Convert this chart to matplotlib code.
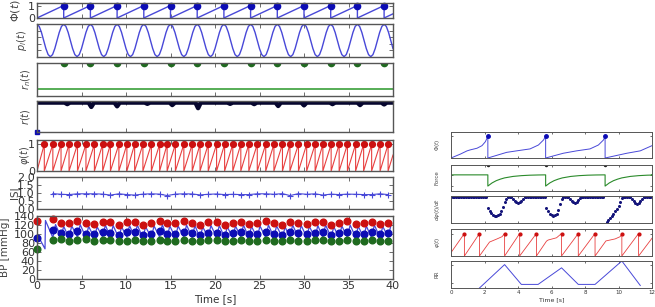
import numpy as np
import matplotlib
matplotlib.use("Agg")
import matplotlib.pyplot as plt

# ---- left column data (40 s simulation) ----
phi_beats = [3.0, 6.0, 9.0, 12.0, 15.0, 18.0, 21.0, 24.0, 27.0, 30.0, 33.0, 36.0, 39.0]
pl_cycle = [1.0, 0.87, 0.5, 0.0, -0.5, -0.87, -1.0, -0.87, -0.5, 0.0, 0.5, 0.87]
pl_step = 0.25
rn_level = 0.2
r_dip_t = [3.4, 6.1, 9.0, 12.4, 15.2, 18.1, 21.7, 24.4, 27.1, 30.0, 33.2, 36.3, 39.0]
r_dip_d = [0.05, 0.14, 0.12, 0.04, 0.08, 0.18, 0.04, 0.05, 0.11, 0.09, 0.05, 0.08, 0.06]
beats = [0.82, 1.78, 2.7, 3.6, 4.55, 5.5, 6.45, 7.38, 8.25, 9.2, 10.1, 10.97, 11.9,
         12.85, 13.78, 14.62, 15.55, 16.5, 17.44, 18.32, 19.24, 20.18, 21.08, 22.0,
         22.9, 23.8, 24.75, 25.7, 26.62, 27.58, 28.42, 29.38, 30.3, 31.25, 32.12,
         33.05, 33.95, 34.88, 35.8, 36.7, 37.6, 38.55, 39.45]
bp_sys = [129, 133, 125, 125, 129, 124, 122, 127, 126, 121, 126, 127, 121, 124, 128,
          124, 124, 128, 125, 121, 126, 126, 121, 125, 127, 122, 124, 128, 124, 121,
          127, 125, 122, 126, 127, 121, 125, 128, 123, 124, 127, 122, 125]
bp_mean = [92, 110, 102, 101, 106, 100, 99, 105, 103, 98, 104, 104, 98, 101, 106,
           101, 101, 105, 102, 98, 103, 103, 98, 102, 105, 99, 101, 105, 101, 98,
           104, 102, 99, 103, 104, 98, 102, 105, 100, 101, 104, 99, 102]
bp_dia = [66, 87, 89, 85, 86, 88, 84, 86, 87, 84, 85, 86, 84, 85, 87, 85, 85, 86, 85,
          84, 86, 86, 84, 85, 87, 84, 85, 86, 85, 84, 86, 85, 84, 86, 86, 84, 85, 87,
          84, 85, 86, 84, 85]
bp_line_lo = [92, 93, 91, 93, 92, 91, 93, 92, 91, 93, 92, 91, 92, 93, 91, 92, 93, 92,
              91, 92, 93, 92, 91, 93, 92, 91, 92, 93, 92, 91, 92, 93, 91, 92, 93, 91,
              92, 93, 92, 91, 92, 93]
bp_line_hi = [121, 117, 118, 121, 117, 116, 120, 119, 116, 119, 120, 116, 118, 121,
              118, 118, 120, 119, 116, 119, 119, 116, 118, 120, 117, 118, 120, 118,
              116, 120, 119, 117, 119, 120, 116, 118, 120, 117, 118, 120, 117, 118]
bp_start_t = [0.0, 0.9, 0.95]
bp_start_v = [100, 67, 130]

# ---- right column data (12 s zoom) ----
R_beats = [2.2, 5.65, 9.2]
R_Phi_t = [0.0, 0.56, 0.96, 1.15, 1.55, 1.85, 2.05, 2.2, 2.2, 3.32, 3.92, 4.72, 5.22,
           5.52, 5.65, 5.65, 6.71, 7.5, 8.3, 8.8, 9.1, 9.2, 9.2, 10.5, 11.3, 12.0]
R_Phi_v = [0.0, 0.18, 0.33, 0.375, 0.45, 0.57, 0.75, 1.0, 0.0, 0.26, 0.33, 0.42, 0.6,
           0.83, 1.0, 0.0, 0.22, 0.33, 0.42, 0.6, 0.83, 1.0, 0.0, 0.22, 0.33, 0.57]
force_off = [0.0, 0.0, 0.25, 0.5, 0.75, 1.0, 1.5, 2.0, 2.5, 3.0]
force_val = [0.0, -1.0, -0.72, -0.52, -0.38, -0.27, -0.14, -0.07, -0.03, -0.01]
force_top = 0.88
dphi_step = 0.1
dphi_dips = {
    22: [0.57, 0.46, 0.37, 0.31, 0.28, 0.27, 0.29, 0.34, 0.45, 0.62, 0.80, 0.93],
    37: [0.92, 0.85, 0.80, 0.78, 0.80, 0.86, 0.93],
    57: [0.57, 0.45, 0.35, 0.29, 0.27, 0.29, 0.36, 0.50, 0.72, 0.92],
    71: [0.92, 0.85, 0.79, 0.78, 0.81, 0.88, 0.95],
    92: [-0.1, 0.02, 0.1, 0.18, 0.27, 0.36, 0.45, 0.55, 0.66, 0.8, 0.95],
    108: [0.92, 0.84, 0.76, 0.73, 0.76, 0.84, 0.93],
}
R_phi_t = [0.0, 0.8, 0.8, 1.7, 1.7, 2.3, 2.75, 3.05, 3.2, 3.2, 4.1, 4.1, 5.1, 5.1, 5.7,
           5.8, 6.3, 6.6, 6.6, 7.6, 7.6, 8.6, 8.6, 9.25, 9.8, 10.1, 10.2, 10.2, 11.2,
           11.2, 12.0]
R_phi_v = [0.15, 1.0, 0.0, 1.0, 0.0, 0.62, 0.76, 0.86, 1.0, 0.0, 1.0, 0.0, 1.0, 0.0,
           0.66, 0.71, 0.81, 1.0, 0.0, 1.0, 0.0, 1.0, 0.0, 0.67, 0.76, 0.86, 1.0, 0.0,
           1.0, 0.0, 0.79]
R_phi_peaks = [0.8, 1.7, 3.2, 4.1, 5.1, 6.6, 7.6, 8.6, 10.2, 11.2]
RR_t = [1.7, 3.2, 4.2, 5.2, 6.6, 7.6, 8.6, 10.2, 11.3]
RR_v = [0.85, 1.5, 0.95, 0.95, 1.41, 0.95, 0.95, 1.6, 0.92]

W, H = 655, 307
fig = plt.figure(figsize=(W / 100, H / 100), dpi=100)


def add_ax(x0, y0, x1, y1):
    return fig.add_axes([x0 / W, 1 - y1 / H, (x1 - x0) / W, (y1 - y0) / H])


def style(ax, fs, tl=3, lw=1.0):
    for s in ax.spines.values():
        s.set_color("#555555")
        s.set_linewidth(lw)
    ax.tick_params(direction="in", top=True, right=True, length=tl, width=0.6,
                   colors="#555555", labelcolor="#333333", labelsize=fs, pad=1.5)


BLUE_L, BLUE_D = "#4848d8", "#0c0cb4"
RED_L, RED_D = "#e84040", "#cc1010"
GREEN_L, GREEN_D = "#3aa03a", "#1f6a1f"

# ================= left column =================
L0, L1 = 37, 393
rows = [(3, 18), (24, 57), (63, 96), (101, 132), (140, 171), (177, 209), (216, 279)]
axL = [add_ax(L0, a, L1, b) for a, b in rows]
for ax in axL:
    style(ax, 8)
    ax.set_xlim(0, 40)
    ax.set_xticks(np.arange(0, 41, 5))
    ax.tick_params(labelbottom=False)

# Phi(t)
ax = axL[0]
st, sv = [0.0], [0.0]
for b in phi_beats:
    st += [b, b]
    sv += [1.0, 0.0]
st.append(40.0)
sv.append((40.0 - phi_beats[-1]) / 3.0)
ax.plot(st, sv, color=BLUE_L, lw=1.0)
ax.plot(phi_beats, [1.0] * len(phi_beats), "o", color=BLUE_D, ms=4.5, clip_on=False)
ax.set_ylim(0, 1.2)
ax.set_yticks([0, 1])

# p_l(t)
ax = axL[1]
n = int(40 / pl_step) + 1
pl_t = np.arange(n) * pl_step
pl_v = np.tile(pl_cycle, n // len(pl_cycle) + 1)[:n]
ax.plot(pl_t, pl_v, color=BLUE_L, lw=1.0)
ax.set_ylim(-1.02, 1.02)
ax.set_yticks(np.linspace(-1, 1, 6))
ax.tick_params(labelleft=False)

# r_n(t)
ax = axL[2]
ax.plot([0, 40], [rn_level, rn_level], color=GREEN_L, lw=1.2)
ax.plot(phi_beats, [1.0] * len(phi_beats), "o", color=GREEN_D, ms=4.5)
ax.set_ylim(0, 1)
ax.set_yticks([])

# r(t)
ax = axL[3]
rt, rv = [0.0], [0.95]
for t, d in zip(r_dip_t, r_dip_d):
    rt += [t - 0.3, t, t + 0.3]
    rv += [0.95, 0.95 - d, 0.95]
rt.append(40.0)
rv.append(0.95)
ax.plot(rt, rv, color="#06062e", lw=3.2, solid_capstyle="butt")
ax.plot([0], [0.0], "s", color=BLUE_D, ms=2.5, clip_on=False)
ax.set_ylim(0, 1.0)
ax.set_yticks([])

# phi(t)
ax = axL[4]
ft, fv = [0.0], [0.0]
for b in beats:
    ft += [b, b]
    fv += [1.0, 0.0]
ft.append(40.0)
fv.append((40.0 - beats[-1]) / 0.92)
ax.plot(ft, fv, color=RED_L, lw=0.8)
ax.plot(beats, [1.0] * len(beats), "o", color=RED_D, ms=4.2)
ax.set_ylim(0, 1.16)
ax.set_yticks([0, 1])

# ISI
ax = axL[5]
isi = np.diff(beats)
ax.plot(beats[1:], isi, "-+", color=BLUE_L, lw=0.8, ms=4, mew=0.8)
ax.set_ylim(0, 2)
ax.set_yticks([0, 0.5, 1.0, 1.5, 2.0])
ax.set_yticklabels(["0.0", "0.5", "1.0", "1.5", "2.0"])

# BP
ax = axL[6]
bp_t = [0.0] + beats[1:]
lt, lv = list(bp_start_t), list(bp_start_v)
for t, lo, hi in zip(beats[1:], bp_line_lo, bp_line_hi):
    lt += [t, t + 0.3]
    lv += [lo, hi]
ax.plot(lt, lv, color=BLUE_L, lw=0.9)
ax.plot(bp_t, bp_sys, "o", color=RED_D, ms=4.8, clip_on=False)
ax.plot(bp_t, bp_mean, "o", color=BLUE_D, ms=4.8, clip_on=False)
ax.plot(bp_t, bp_dia, "o", color=GREEN_D, ms=4.8, clip_on=False)
ax.set_ylim(0, 140)
ax.set_yticks(np.arange(0, 141, 20))
ax.tick_params(labelbottom=True)
ax.set_xlabel("Time [s]", fontsize=7.5, color="#333333", labelpad=2)

lab_kw = dict(rotation=90, ha="center", va="center", color="#444444")
labels = [(r"$\Phi(t)$", 15, 8), (r"$p_l(t)$", 22, 7), (r"$r_n(t)$", 26, 7),
          (r"$r(t)$", 26, 7), (r"$\varphi(t)$", 25, 7), ("ISI", 15, 7.5),
          ("BP [mmHg]", 5, 7.5)]
for (txt, xp, fs), (a, b) in zip(labels, rows):
    fig.text(xp / W, 1 - (a + b) / 2 / H, txt, fontsize=fs, **lab_kw)

# ================= right column =================
R0, R1 = 451, 652
rrows = [(132, 158), (165, 191), (196, 223), (229, 256), (261, 288)]
axR = [add_ax(R0, a, R1, b) for a, b in rrows]
for ax in axR:
    style(ax, 4, tl=1.5, lw=0.7)
    ax.set_xlim(0, 12)
    ax.set_xticks(np.arange(0, 13, 2))
    ax.tick_params(labelbottom=False, labelleft=False)

ax = axR[0]
ax.plot(R_Phi_t, R_Phi_v, color=BLUE_L, lw=0.7)
ax.plot(R_beats, [1.0] * 3, "o", color=BLUE_D, ms=2.5)
ax.set_ylim(0, 1.2)

ax = axR[1]
ft, fv = [0.0], [0.0]
for b in R_beats:
    ft += [b + o for o in force_off]
    fv += force_val
ft.append(12.0)
fv.append(0.0)
ax.plot(ft, fv, color="#2a8a2a", lw=0.8)
ax.plot(R_beats, [force_top] * 3, "o", color="#222222", ms=1.5)
ax.set_ylim(-1.44, force_top)

ax = axR[2]
m = int(round(12 / dphi_step)) + 1
d_t = np.arange(m) * dphi_step
d_v = np.ones(m)
for i0, vals in dphi_dips.items():
    d_v[i0:i0 + len(vals)] = vals
ax.plot(d_t, d_v, "o", color="#14147a", ms=2.2, mew=0)
ax.set_ylim(0, 1.04)

ax = axR[3]
ax.plot(R_phi_t, R_phi_v, color=RED_L, lw=0.6)
ax.plot(R_phi_peaks, [1.0] * len(R_phi_peaks), "o", color=RED_D, ms=2)
ax.set_ylim(0, 1.2)

ax = axR[4]
ax.plot(RR_t, RR_v, color=BLUE_L, lw=0.7)
ax.set_ylim(0.85, 1.6)
ax.tick_params(labelbottom=True)
ax.set_xlabel("Time [s]", fontsize=4.5, color="#333333", labelpad=1.5)

rlabels = [r"$\Phi(t)$", "Force", r"$d\varphi(t)/dt$", r"$\varphi(t)$", "RR"]
for txt, (a, b) in zip(rlabels, rrows):
    fig.text(437 / W, 1 - (a + b) / 2 / H, txt, fontsize=4, **lab_kw)

fig.savefig("out.png", dpi=100)
